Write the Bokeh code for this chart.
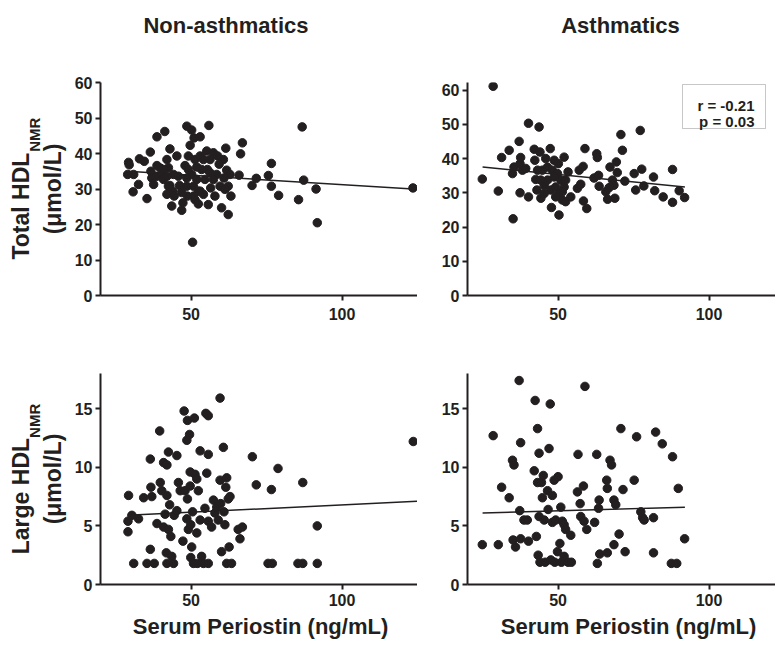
import math
from bokeh.plotting import figure
from bokeh.models import Label, FixedTicker, Range1d, BoxAnnotation
from bokeh.layouts import column, row
from bokeh.core.properties import value
from bokeh.embed import file_html
from bokeh.resources import INLINE

FONT = "Liberation Sans"
INK = "#231f20"

# ---------------- data ----------------
titles = ["Non-asthmatics", "Asthmatics"]
x_label = "Serum Periostin (ng/mL)"
ylabel_top = ("Total HDL", "NMR", "(\u03bcmol/L)")
ylabel_bottom = ("Large HDL", "NMR", "(\u03bcmol/L)")
stats_text = ["r = -0.21", "p = 0.03"]

x_ticks = [50, 100]
y_ticks_total = [0, 10, 20, 30, 40, 50, 60]
y_ticks_large = [0, 5, 10, 15]

# Non-asthmatics, total HDL
non_total_x = [29.3, 29.5, 29.0, 31.0, 30.8, 32.6, 32.9, 34.5, 35.4, 36.5, 36.7, 37.0, 37.6, 38.7, 38.7,
               39.8, 40.3, 41.3, 40.9, 42.0, 42.0, 42.5, 43.0, 43.0, 43.6, 44.0, 44.2, 44.4, 45.3, 45.8,
               46.9, 47.3, 48.0, 48.6, 48.6, 48.8, 49.1, 49.7, 50.2, 50.2, 50.8, 50.5, 51.0, 51.3, 51.3,
               51.9, 52.4, 53.0, 53.0, 53.0, 53.5, 54.1, 54.6, 55.2, 55.4, 55.7, 55.9, 56.3, 56.5, 57.4,
               57.9, 58.5, 59.3, 59.6, 60.1, 60.7, 60.9, 61.5, 61.8, 62.3, 62.3, 62.9, 63.2, 65.9, 66.4,
               67.0, 70.2, 71.6, 75.6, 76.6, 76.6, 79.0, 85.6, 86.8, 87.3, 91.4, 91.8, 123.5,
               49.1, 46.2, 51.9, 54.1, 57.4, 58.8, 42.0, 38.7, 48.6, 46.9, 61.2, 56.3, 40.9, 42.5, 52.4, 50.8]
non_total_y = [37.5, 36.8, 34.1, 34.1, 29.2, 31.3, 38.5, 37.8, 27.3, 40.4, 35.0, 33.1, 31.3, 44.7, 33.6,
               35.9, 34.1, 46.2, 32.7, 38.3, 28.5, 36.0, 41.3, 31.0, 25.2, 29.4, 34.1, 28.0, 39.3, 33.6,
               24.0, 26.1, 36.6, 47.7, 30.8, 28.0, 39.3, 42.3, 46.6, 34.1, 30.8, 15.0, 44.4, 38.3, 27.0,
               32.7, 25.8, 44.7, 39.3, 29.4, 35.5, 28.5, 32.7, 40.7, 35.5, 25.6, 47.9, 38.3, 30.3, 40.2,
               28.0, 34.1, 37.0, 30.8, 24.7, 38.3, 33.1, 41.5, 35.3, 30.8, 22.8, 34.1, 28.0, 33.9, 39.9,
               43.0, 31.0, 33.0, 33.8, 30.8, 37.2, 28.2, 27.0, 47.5, 32.5, 30.0, 20.5, 30.3,
               35.5, 31.0, 36.2, 38.3, 32.7, 39.3, 33.6, 36.6, 33.1, 29.0, 29.9, 34.6, 35.5, 30.8, 29.4, 28.0]
non_total_fit_x = [29.0, 125.0]
non_total_fit_y = [35.0, 29.9]

# Asthmatics, total HDL
asth_total_x = [28.5, 24.9, 30.2, 31.3, 33.8, 35.1, 34.9, 35.4, 37.1, 37.4, 37.4, 37.6, 38.2, 39.3, 40.2,
                40.2, 42.1, 42.3, 42.6, 43.0, 43.7, 44.0, 44.3, 44.8, 45.4, 45.9, 46.5, 47.4, 47.6, 47.8,
                48.1, 48.7, 49.2, 49.8, 50.1, 50.3, 50.3, 50.9, 51.4, 52.0, 52.0, 52.5, 53.3, 54.2, 56.4,
                57.0, 57.5, 58.3, 58.4, 58.9, 59.5, 61.9, 62.8, 63.0, 63.4, 63.6, 65.8, 66.4, 66.9, 67.2,
                68.0, 68.5, 68.8, 69.3, 69.6, 70.8, 71.3, 72.1, 75.2, 75.7, 77.2, 77.7, 78.4, 81.6, 82.0,
                84.8, 87.9, 87.9, 90.1, 91.9, 48.7, 51.4, 44.3, 46.5, 49.2, 52.5, 45.4, 43.2]
asth_total_y = [61.1, 34.0, 30.5, 40.3, 42.4, 22.4, 35.6, 37.5, 45.0, 38.5, 30.0, 40.3, 36.6, 37.1, 50.3,
                28.8, 42.7, 39.5, 33.9, 30.8, 49.2, 41.9, 28.4, 36.6, 32.2, 40.0, 33.7, 42.9, 30.8, 25.7,
                36.6, 39.5, 31.7, 35.6, 38.5, 23.5, 29.8, 33.7, 27.9, 40.4, 31.7, 27.4, 36.1, 28.8, 31.3,
                36.6, 32.5, 37.7, 27.6, 42.9, 25.4, 34.3, 41.4, 40.3, 35.1, 31.9, 30.3, 28.1, 31.5, 37.5,
                33.7, 32.2, 28.4, 39.0, 35.9, 47.0, 42.4, 33.4, 35.6, 30.8, 48.2, 36.9, 32.0, 34.6, 30.6,
                28.8, 27.2, 36.8, 30.6, 28.6, 34.6, 30.3, 33.7, 37.5, 28.8, 33.7, 29.8, 36.6]
asth_total_fit_x = [25.0, 92.0]
asth_total_fit_y = [37.5, 31.7]

# Non-asthmatics, large HDL
non_large_x = [29.3, 29.1, 29.1, 30.4, 31.0, 32.6, 34.3, 35.4, 36.5, 36.5, 36.7, 37.0, 37.8, 38.7, 39.6,
               39.8, 40.3, 40.9, 40.9, 41.4, 41.8, 42.0, 42.0, 42.0, 42.5, 42.9, 42.5, 43.3, 43.6, 44.2,
               44.4, 45.3, 45.3, 45.8, 46.4, 47.3, 47.7, 48.0, 48.6, 48.6, 48.8, 48.8, 49.1, 49.5, 49.7,
               49.7, 49.9, 49.9, 50.2, 50.5, 50.8, 51.1, 51.3, 51.9, 51.9, 52.1, 52.4, 53.0, 53.0, 53.5,
               54.1, 54.6, 54.9, 55.2, 55.7, 55.7, 55.7, 55.7, 56.8, 57.4, 57.9, 58.5, 59.0, 59.6, 59.6,
               59.8, 60.1, 60.7, 60.9, 61.2, 61.5, 61.8, 61.8, 62.3, 62.6, 62.9, 63.4, 65.6, 66.2, 67.0,
               70.3, 71.6, 75.5, 76.6, 76.9, 78.8, 85.4, 87.0, 87.0, 91.8, 91.8, 123.6]
non_large_y = [7.6, 5.4, 4.5, 5.9, 1.8, 5.6, 7.4, 1.8, 10.7, 3.0, 8.3, 7.5, 1.8, 5.2, 13.1,
               8.7, 8.0, 10.4, 4.9, 6.0, 2.7, 10.2, 1.8, 7.6, 11.3, 6.8, 4.7, 4.1, 2.4, 1.8,
               5.9, 11.0, 6.3, 8.7, 8.0, 3.7, 14.8, 8.0, 5.6, 12.3, 14.0, 7.3, 4.7, 12.8, 9.6,
               8.4, 5.1, 2.3, 3.2, 6.2, 1.8, 14.2, 9.4, 9.0, 4.4, 1.8, 8.0, 11.4, 5.5, 2.4,
               1.8, 6.5, 14.6, 9.5, 14.4, 11.1, 5.4, 1.8, 4.9, 7.2, 6.1, 6.6, 5.5, 15.9, 8.9,
               6.9, 2.8, 11.7, 6.2, 5.1, 8.3, 9.1, 1.8, 7.3, 3.2, 7.5, 1.8, 4.7, 3.9, 4.9,
               10.9, 8.5, 1.8, 8.1, 1.8, 9.9, 1.8, 8.7, 1.8, 5.0, 1.8, 12.2]
non_large_fit_x = [29.0, 125.0]
non_large_fit_y = [5.9, 7.1]

# Asthmatics, large HDL
asth_large_x = [24.9, 28.5, 30.2, 31.3, 33.8, 34.9, 35.4, 35.1, 35.9, 37.1, 37.3, 37.6, 37.6, 38.7, 39.8,
                40.2, 42.1, 42.4, 42.8, 43.2, 43.2, 43.4, 43.7, 43.7, 44.0, 44.5, 44.8, 45.1, 45.4, 45.7,
                46.5, 46.7, 47.0, 47.4, 47.6, 48.1, 48.1, 48.7, 48.9, 49.2, 49.8, 50.0, 50.6, 50.9, 51.1,
                51.4, 52.0, 52.0, 52.5, 53.3, 54.2, 54.4, 56.4, 56.6, 57.3, 57.5, 58.4, 58.6, 58.9, 59.5,
                62.1, 62.8, 63.0, 63.4, 63.6, 63.8, 66.1, 66.3, 66.3, 67.2, 67.7, 68.5, 68.5, 69.1, 70.2,
                70.8, 71.5, 72.2, 75.2, 76.0, 77.4, 78.0, 78.5, 81.6, 81.6, 82.3, 84.5, 87.5, 87.9, 89.3,
                89.8, 91.9]
asth_large_y = [3.4, 12.7, 3.4, 8.3, 7.4, 10.6, 10.2, 3.8, 3.2, 17.4, 6.3, 12.1, 3.9, 5.5, 5.5,
                3.7, 9.7, 15.7, 4.1, 13.3, 8.7, 2.5, 11.2, 5.8, 1.9, 8.7, 7.4, 9.3, 5.5, 1.9,
                8.0, 6.4, 11.6, 15.4, 2.1, 7.6, 5.3, 8.9, 1.9, 5.5, 2.8, 9.2, 3.5, 6.6, 1.9,
                5.4, 5.1, 2.4, 4.7, 1.9, 4.2, 1.9, 7.9, 11.1, 6.9, 5.8, 8.4, 5.4, 16.9, 4.7,
                5.3, 11.1, 1.8, 6.5, 7.2, 2.6, 8.9, 8.2, 2.7, 10.6, 10.2, 7.2, 3.4, 6.8, 4.3,
                13.3, 8.1, 2.8, 8.9, 12.6, 6.2, 5.7, 5.5, 2.7, 5.7, 13.0, 12.0, 1.8, 10.9, 1.8,
                8.2, 3.9]
asth_large_fit_x = [25.0, 92.0]
asth_large_fit_y = [6.1, 6.6]

x_range_left = (20, 125)
x_range_right = (20, 122.0)
y_range_total_non = (0, 60)
y_range_total_asth = (0, 62.2)
y_range_large = (0, 18)

# ---------------- layout constants (pixels) ----------------
LAB_W = 71                 # column holding the rotated y labels
LEFT_W, RIGHT_W = 346, 358
LEFT_BL, RIGHT_BL = 28, 50
TITLE_H = 72
TOP_BT, TOP_FH, TOP_BB = 10, 213, 49
BOT_BT, BOT_FH, BOT_BB = 29, 211, 28
TOP_H = TOP_BT + TOP_FH + TOP_BB
BOT_H = BOT_BT + BOT_FH + BOT_BB
XLAB_H = 27
TOTAL_W = LAB_W + LEFT_W + RIGHT_W


def text_fig(w, h, bt=0, bb=0):
    p = figure(width=w, height=h, x_range=Range1d(0, w), y_range=Range1d(0, h - bt - bb),
               x_axis_location=None, y_axis_location=None, min_border=0,
               min_border_left=0, min_border_right=0, min_border_top=bt, min_border_bottom=bb,
               output_backend="svg", toolbar_location=None, title=None)
    p.outline_line_color = None
    p.grid.visible = False
    return p


def put_text(p, x, y, text, size, angle=0.0):
    p.text(x=[x], y=[y], text=[text], angle=angle, text_font=value(FONT),
           text_font_style="bold", text_font_size=size, text_color=INK,
           text_align="center", text_baseline="middle")


def make_fig(w, h, bl, bt, bb, xr, yr, yticks, x_standoff=7):
    p = figure(width=w, height=h, x_range=Range1d(*xr), y_range=Range1d(*yr),
               output_backend="svg", toolbar_location=None, title=None,
               min_border_left=bl, min_border_right=0, min_border_top=bt, min_border_bottom=bb)
    p.outline_line_color = None
    p.grid.visible = False
    for ax in (p.xaxis[0], p.yaxis[0]):
        ax.axis_line_width = 2
        ax.axis_line_color = INK
        ax.major_tick_line_width = 2
        ax.major_tick_line_color = INK
        ax.major_tick_out = 5
        ax.major_tick_in = 0
        ax.minor_tick_line_color = None
        ax.major_label_text_font = FONT
        ax.major_label_text_font_style = "bold"
        ax.major_label_text_font_size = "16px"
        ax.major_label_text_color = INK
    p.xaxis[0].ticker = FixedTicker(ticks=x_ticks)
    p.yaxis[0].ticker = FixedTicker(ticks=yticks)
    p.xaxis[0].major_label_standoff = x_standoff
    p.yaxis[0].major_label_standoff = 3
    return p


def draw(p, xs, ys, fx, fy):
    p.line(fx, fy, line_width=1.5, color=INK)
    p.scatter(xs, ys, size=8.5, color=INK)


def ylabel_fig(h, bt, fh, bb, parts, main_w, sub_w):
    # frame of this figure lines up with the neighbouring panel's frame (pixel units)
    p = text_fig(LAB_W, h, bt, bb)
    main, sub, unit = parts
    cy = fh / 2
    total = main_w + sub_w
    put_text(p, 20.5, cy - total / 2 + main_w / 2, main, "23px", angle=math.pi / 2)
    put_text(p, 34, cy - total / 2 + main_w + sub_w / 2, sub, "15px", angle=math.pi / 2)
    put_text(p, 52.5, cy, unit, "23px", angle=math.pi / 2)
    return p


# titles row
t_fig = text_fig(TOTAL_W, TITLE_H)
put_text(t_fig, 225.5, TITLE_H + 1 - 25.5, titles[0], "22px")
put_text(t_fig, 620, TITLE_H + 1 - 25.5, titles[1], "22px")

# top row
ylab_top = ylabel_fig(TOP_H, TOP_BT, TOP_FH, TOP_BB, ylabel_top, 108.6, 34.2)

p1 = make_fig(LEFT_W, TOP_H, LEFT_BL, TOP_BT, TOP_BB, x_range_left, y_range_total_non, y_ticks_total)
draw(p1, non_total_x, non_total_y, non_total_fit_x, non_total_fit_y)

p2 = make_fig(RIGHT_W, TOP_H, RIGHT_BL, TOP_BT, TOP_BB, x_range_right, y_range_total_asth, y_ticks_total)
draw(p2, asth_total_x, asth_total_y, asth_total_fit_x, asth_total_fit_y)
p2.add_layout(BoxAnnotation(left=215, right=298, top=TOP_FH - 2, bottom=TOP_FH - 46,
                            left_units="screen", right_units="screen",
                            top_units="screen", bottom_units="screen",
                            fill_color=None, line_color="#444444", line_width=1))
for i, txt in enumerate(stats_text):
    p2.add_layout(Label(x=287, y=TOP_FH - 23 - 16 * i, x_units="screen", y_units="screen",
                        text=txt, text_font=FONT, text_font_style="bold", text_font_size="15px",
                        text_color=INK, text_align="right", text_baseline="alphabetic"))

# bottom row
ylab_bot = ylabel_fig(BOT_H, BOT_BT, BOT_FH, BOT_BB, ylabel_bottom, 116.3, 34.2)

p3 = make_fig(LEFT_W, BOT_H, LEFT_BL, BOT_BT, BOT_BB, x_range_left, y_range_large, y_ticks_large, 4)
draw(p3, non_large_x, non_large_y, non_large_fit_x, non_large_fit_y)

p4 = make_fig(RIGHT_W, BOT_H, RIGHT_BL, BOT_BT, BOT_BB, x_range_right, y_range_large, y_ticks_large, 4)
draw(p4, asth_large_x, asth_large_y, asth_large_fit_x, asth_large_fit_y)

# x labels row
x_fig = text_fig(TOTAL_W, XLAB_H)
put_text(x_fig, 260, 13.5, x_label, "22px")
put_text(x_fig, 628, 13.5, x_label, "22px")

layout = column(t_fig, row(ylab_top, p1, p2), row(ylab_bot, p3, p4), x_fig)
open("out.html", "w").write(file_html(layout, INLINE))
